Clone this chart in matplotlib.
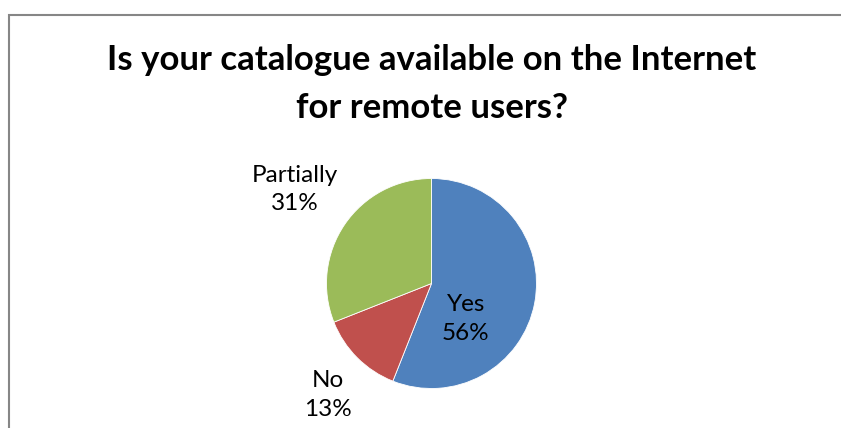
import matplotlib

matplotlib.use("Agg")

import matplotlib.pyplot as plt
from matplotlib.patches import Rectangle


TITLE_LINES = ["Is your catalogue available on the Internet", "for remote users?"]
CATEGORIES = ["Yes", "No", "Partially"]
SHARES = [56, 13, 31]
COLORS = ["#4F81BD", "#C0504D", "#9BBB59"]

# label centres in pie data units (radius = 1)
LABEL_POS = [(0.328, -0.338), (-0.99, -1.061), (-1.30, 0.895)]

W, H = 841, 428
CX, CY, R = 431.5, 283.5, 105.0

plt.rcParams["font.family"] = ["Lato", "DejaVu Sans"]

fig = plt.figure(figsize=(W / 100, H / 100), dpi=100)
fig.patch.set_facecolor("white")

# chart frame, open to the right and bottom
fig.add_artist(
    Rectangle(
        (8.5 / W, -0.1),
        1.2,
        (H - 14.5) / H + 0.1,
        transform=fig.transFigure,
        fill=False,
        edgecolor="#868686",
        linewidth=1.5,
    )
)

for line, baseline in zip(TITLE_LINES, [70, 118]):
    fig.text(432 / W, 1 - baseline / H, line, ha="center", va="baseline",
             fontsize=25, fontweight="bold", color="black")

ax = fig.add_axes([(CX - R) / W, (H - CY - R) / H, 2 * R / W, 2 * R / H])
ax.pie(
    SHARES,
    colors=COLORS,
    startangle=90,
    counterclock=False,
    radius=1,
    wedgeprops=dict(edgecolor="white", linewidth=0.6),
)
ax.set_xlim(-1, 1)
ax.set_ylim(-1, 1)
ax.set_aspect("equal")
ax.axis("off")

total = sum(SHARES)
for name, value, (x, y) in zip(CATEGORIES, SHARES, LABEL_POS):
    ax.text(x, y, f"{name}\n{round(100 * value / total)}%", ha="center", va="center",
            fontsize=17.5, linespacing=1.45, color="black", clip_on=False)

fig.savefig("out.png", dpi=100)
